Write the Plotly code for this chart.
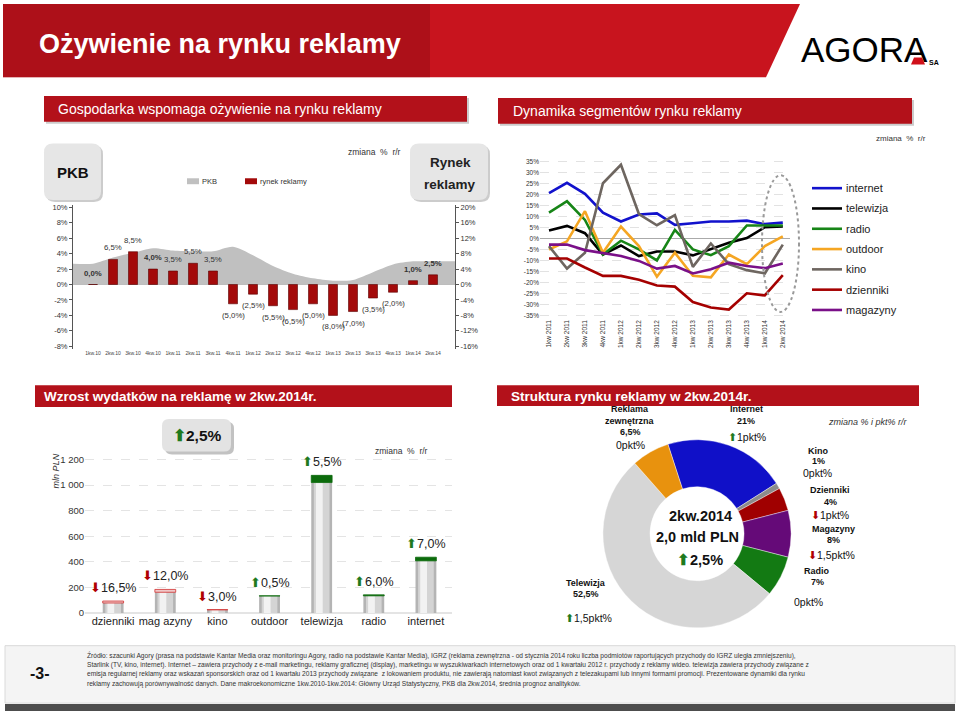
import plotly.graph_objects as go

W, H = 960, 718
def X(p): return p / W
def Y(p): return 1 - p / H

NARROW = "Liberation Sans, Arial, Helvetica, sans-serif"
ARIAL = "Liberation Sans, Arial, Helvetica, sans-serif"

# ---------------- data ----------------
pkb_quarters = ["1kw.10", "2kw.10", "3kw.10", "4kw.10", "1kw.11", "2kw.11", "3kw.11", "4kw.11",
                "1kw.12", "2kw.12", "3kw.12", "4kw.12", "1kw.13", "2kw.13", "3kw.13", "4kw.13",
                "1kw.14", "2kw.14"]
pkb_growth = [2.7, 3.5, 4.1, 4.7, 4.4, 4.3, 4.3, 4.9, 3.8, 2.4, 1.4, 0.8, 0.5, 0.6, 1.6, 2.6, 3.0, 3.0]
ad_market_growth = [0.0, 6.5, 8.5, 4.0, 3.5, 5.5, 3.5, -5.0, -2.5, -5.5, -6.5, -5.0, -8.0, -7.0,
                    -3.5, -2.0, 1.0, 2.5]
bold_bar_labels = {0, 3, 16, 17}

seg_quarters = ["1kw 2011", "2kw 2011", "3kw 2011", "4kw 2011", "1kw 2012", "2kw 2012", "3kw 2012",
                "4kw 2012", "1kw 2013", "2kw 2013", "3kw 2013", "4kw 2013", "1kw 2014", "2kw 2014"]
seg_internet = [20.7, 25.4, 20.4, 11.8, 7.8, 11.0, 11.5, 6.3, 7.0, 7.8, 7.8, 8.2, 6.6, 7.3]
seg_telewizja = [3.7, 5.8, 2.5, -7.2, -3.1, -7.9, -5.8, -5.8, -7.6, -4.9, -1.9, 0.3, 5.2, 5.5]
seg_radio = [11.8, 17.0, 8.5, -7.2, -0.9, -4.9, -9.9, 4.0, -4.9, -7.5, -3.4, 6.0, 6.0, 6.0]
seg_outdoor = [-4.9, -1.2, 12.5, -6.4, 5.5, -3.4, -17.3, -6.4, -16.9, -17.6, -7.2, -11.6, -3.4, 1.0]
seg_kino = [-3.4, -13.6, -6.4, 25.2, 33.6, 11.2, 6.1, 10.7, -12.8, -2.2, -11.6, -14.3, -15.8, -2.7]
seg_dzienniki = [-9.0, -9.0, -13.1, -16.9, -16.9, -18.7, -21.3, -21.8, -28.8, -31.3, -32.2, -24.8, -25.8, -16.6]
seg_magazyny = [-2.7, -2.7, -5.2, -6.7, -7.9, -10.1, -13.6, -12.4, -15.8, -13.9, -10.9, -12.4, -13.4, -11.3]
seg_names = ["internet", "telewizja", "radio", "outdoor", "kino", "dzienniki", "magazyny"]
seg_colors = ["#1212CC", "#000000", "#178517", "#F5A623", "#6E6660", "#A50000", "#7A1088"]

spend_names = ["dzienniki", "mag azyny", "kino", "outdoor", "telewizja", "radio", "internet"]
spend_2q14 = [78, 162, 25, 134, 1076, 142, 436]          # mln PLN
spend_change = [-16.5, -12.0, -3.0, 0.5, 5.5, 6.0, 7.0]  # % r/r

share_labels = ["Internet", "Kino", "Dzienniki", "Magazyny", "Radio", "Telewizja", "Reklama zewnętrzna"]
share_values = [21, 1, 4, 8, 7, 52.5, 6.5]
share_colors = ["#1010C8", "#8C8C8C", "#A00000", "#650A78", "#137A13", "#D6D6D6", "#E8920E"]

footer_lines = [
    "Źródło: szacunki Agory (prasa na podstawie Kantar Media oraz monitoringu Agory, radio na podstawie Kantar Media), IGRZ (reklama zewnętrzna - od stycznia 2014 roku liczba podmiotów raportujących przychody do IGRZ uległa zmniejszeniu),",
    "Starlink (TV, kino, internet). Internet – zawiera przychody z e-mail marketingu, reklamy graficznej (display), marketingu w wyszukiwarkach internetowych oraz od 1 kwartału 2012 r. przychody z reklamy wideo. telewizja zawiera przychody związane z",
    "emisja regularnej reklamy oraz wskazań sponsorskich oraz od 1 kwartału 2013 przychody związane  z lokowaniem produktu, nie zawierają natomiast kwot związanych z telezakupami lub innymi formami promocji. Prezentowane dynamiki dla rynku",
    "reklamy zachowują porównywalność danych. Dane makroekonomiczne 1kw.2010-1kw.2014: Główny Urząd Statystyczny, PKB dla 2kw.2014, średnia prognoz analityków.",
]

UP = '<span style="color:#1E7A1E">⬆</span>'
DOWN = '<span style="color:#B00000">⬇</span>'

def pl(v, d=1):
    return f"{abs(v):.{d}f}".replace(".", ",")

fig = go.Figure()
shapes = []
anns = []

def ann(text, x, y, size=10, color="#111", family=ARIAL, xanchor="center", yanchor="middle", **kw):
    anns.append(dict(text=text, x=X(x), y=Y(y), xref="paper", yref="paper", showarrow=False,
                     font=dict(size=size, color=color, family=family), xanchor=xanchor,
                     yanchor=yanchor, **kw))

def rect(x0, y0, x1, y1, fill, line=None, lw=0, layer="below", opacity=1):
    shapes.append(dict(type="rect", xref="paper", yref="paper", x0=X(x0), x1=X(x1), y0=Y(y1), y1=Y(y0),
                       fillcolor=fill, line=dict(color=line or fill, width=lw), layer=layer, opacity=opacity))

def rrect(x0, y0, x1, y1, r, fill, line="rgba(0,0,0,0)", lw=0, layer="below", opacity=1):
    rx, ry = r / W, r / H
    a0, a1, b0, b1 = X(x0), X(x1), Y(y0), Y(y1)
    p = (f"M {a0+rx},{b0} L {a1-rx},{b0} Q {a1},{b0} {a1},{b0-ry} L {a1},{b1+ry} Q {a1},{b1} {a1-rx},{b1} "
         f"L {a0+rx},{b1} Q {a0},{b1} {a0},{b1+ry} L {a0},{b0-ry} Q {a0},{b0} {a0+rx},{b0} Z")
    shapes.append(dict(type="path", xref="paper", yref="paper", path=p, fillcolor=fill,
                       line=dict(color=line, width=lw), layer=layer, opacity=opacity))

# ---------------- header ----------------
shapes.append(dict(type="path", xref="paper", yref="paper",
                   path=f"M {X(3)},{Y(2)} L {X(800)},{Y(2)} L {X(766)},{Y(76)} L {X(3)},{Y(76)} Z",
                   fillcolor="#C8141E", line=dict(width=0), layer="below"))
shapes.append(dict(type="path", xref="paper", yref="paper",
                   path=f"M {X(3)},{Y(2)} L {X(430)},{Y(2)} L {X(430)},{Y(76)} L {X(3)},{Y(76)} Z",
                   fillcolor="#7A0A10", opacity=0.35, line=dict(width=0), layer="below"))
ann("<b>Ożywienie na rynku reklamy</b>", 37, 42, size=27, color="white", xanchor="left")
ann("AGORA", 864, 48, size=35, color="#000")
shapes.append(dict(type="path", xref="paper", yref="paper",
                   path=f"M {X(914)},{Y(56)} L {X(922)},{Y(56)} L {X(925)},{Y(63)} L {X(911)},{Y(63)} Z",
                   fillcolor="#D0101A", line=dict(width=0), layer="above"))
ann("<b>SA</b>", 934, 61, size=7, color="#000")

# section headers (top)
rect(46, 97, 469, 123, "#999999", opacity=0.5)
rect(44, 95, 467, 121, "#B3111A")
ann("Gospodarka wspomaga ożywienie na rynku reklamy", 56, 108, size=14, color="white", xanchor="left")
rect(500, 99, 914, 125, "#999999", opacity=0.5)
rect(498, 97, 912, 123, "#B3111A")
ann("Dynamika segmentów rynku reklamy", 511, 110, size=14, color="white", xanchor="left")

# section headers (bottom)
rect(35, 387, 452, 409, "#B3111A")
ann("<b>Wzrost wydatków na reklamę w 2kw.2014r.</b>", 42, 398, size=13.5, color="white", xanchor="left")
rect(497, 387, 919, 408, "#B3111A")
ann("<b>Struktura rynku reklamy w 2kw.2014r.</b>", 509, 398, size=13.5, color="white", xanchor="left")

# ---------------- top-left: PKB vs rynek reklamy ----------------
idx = list(range(len(pkb_quarters)))
fig.add_trace(go.Scatter(x=[-1] + idx + [18.1], y=[pkb_growth[0]] + pkb_growth + [pkb_growth[-1]],
                         mode="lines", line=dict(width=0, shape="spline", smoothing=0.8), fill="tozeroy",
                         fillcolor="#C0C0C0", xaxis="x", yaxis="y", hoverinfo="skip"))
fig.add_trace(go.Bar(x=idx, y=ad_market_growth, width=0.45, marker=dict(color="#A30A0A",
                     line=dict(color="#5A0000", width=0.6)), xaxis="x", yaxis="y2"))
for i, v in enumerate(ad_market_growth):
    t = f"{pl(v)}%" if v >= 0 else f"({pl(v)}%)"
    if i in bold_bar_labels:
        t = f"<b>{t}</b>"
    anns.append(dict(text=t, x=i, y=v, xref="x", yref="y2", showarrow=False,
                     yanchor="bottom" if v >= 0 else "top", yshift=5 if v >= 0 else -5,
                     font=dict(size=7.8, family=NARROW, color="#333")))

rrect(46, 145, 103, 202, 9, "#AAAAAA", opacity=0.6)
rrect(44, 143, 101, 200, 9, "#E6E6E6")
ann("<b>PKB</b>", 73, 172, size=15, color="#111")
rrect(412, 145, 490, 202, 9, "#AAAAAA", opacity=0.6)
rrect(410, 143, 488, 200, 9, "#E6E6E6")
ann("<b>Rynek</b>", 450, 162, size=13.5, color="#222")
ann("<b>reklamy</b>", 450, 184, size=13.5, color="#222")
ann("zmiana  %  r/r", 374, 151, size=8.5, color="#333")
rect(187, 178, 199, 184, "#C0C0C0")
ann("PKB", 200, 181, size=7.5, color="#333", family=NARROW, xanchor="left")
rect(245, 178, 257, 184, "#A30A0A")
ann("rynek reklamy", 258, 181, size=7.5, color="#333", family=NARROW, xanchor="left")

# ---------------- top-right: segment dynamics ----------------
sidx = list(range(len(seg_quarters)))
for name, col, vals in zip(seg_names, seg_colors,
                           [seg_internet, seg_telewizja, seg_radio, seg_outdoor, seg_kino, seg_dzienniki, seg_magazyny]):
    fig.add_trace(go.Scatter(x=sidx, y=vals, mode="lines", name=name, line=dict(color=col, width=2.6),
                             xaxis="x2", yaxis="y3"))
shapes.append(dict(type="circle", xref="paper", yref="paper", x0=X(762), x1=X(799), y0=Y(313), y1=Y(175),
                   line=dict(color="#9A9A9A", width=2, dash="dot"), layer="above"))
for k, (name, col) in enumerate(zip(seg_names, seg_colors)):
    yy = 188 + k * 20.5
    shapes.append(dict(type="line", xref="paper", yref="paper", x0=X(812), x1=X(842), y0=Y(yy), y1=Y(yy),
                       line=dict(color=col, width=2.6)))
    ann(name, 844, yy, size=11, color="#222", xanchor="left")
ann("zmiana  %  r/r", 901, 138, size=8, color="#333")

# ---------------- bottom-left: spend bars ----------------
bidx = list(range(len(spend_names)))
base_vals, cap_vals, cap_cols, cap_lines, tops = [], [], [], [], []
for v, p in zip(spend_2q14, spend_change):
    if p >= 0:
        b = v / (1 + p / 100)
        base_vals.append(b); cap_vals.append(v - b); cap_cols.append("#0C6B0C"); cap_lines.append("#0C6B0C")
        tops.append(v)
    else:
        c = v * (-p / 100) / (1 + p / 100)
        base_vals.append(v); cap_vals.append(c); cap_cols.append("#F0C8C8"); cap_lines.append("#D03030")
        tops.append(v + c)
fig.add_trace(go.Bar(x=bidx, y=base_vals, width=0.4, marker=dict(color="#B4B4B4", line=dict(width=0)),
                     xaxis="x3", yaxis="y4"))
fig.add_trace(go.Bar(x=bidx, y=base_vals, width=0.3, marker=dict(color="#D4D4D4", line=dict(width=0)),
                     xaxis="x3", yaxis="y4"))
fig.add_trace(go.Bar(x=bidx, y=base_vals, width=0.13, offset=-0.11, marker=dict(color="#F2F2F2", line=dict(width=0)),
                     xaxis="x3", yaxis="y4"))
fig.add_trace(go.Bar(x=bidx, y=cap_vals, base=base_vals, width=0.4,
                     marker=dict(color=cap_cols, line=dict(color=cap_lines, width=0.8)), xaxis="x3", yaxis="y4"))
for i, (t, p) in enumerate(zip(tops, spend_change)):
    arrow = UP if p >= 0 else DOWN
    anns.append(dict(text=f"{arrow}{pl(p)}%", x=i, y=t, xref="x3", yref="y4", showarrow=False,
                     yanchor="bottom", yshift=4, font=dict(size=12.5, family=ARIAL, color="#222")))
rrect(165, 424, 234, 457, 7, "#999999", opacity=0.6)
rrect(162, 421, 231, 454, 7, "#E3E3E3")
ann(f"<b>{UP}2,5%</b>", 197, 438, size=15.5, color="#111")
ann("zmiana  %  r/r", 401, 453, size=8.5, color="#333")
ann("<i>mln PLN</i>", 56, 474, size=9, color="#333", textangle=-90)

# ---------------- bottom-right: donut ----------------
fig.add_trace(go.Pie(labels=share_labels, values=share_values, hole=0.5, sort=False, direction="clockwise",
                     rotation=-18, textinfo="none", hoverinfo="label+percent",
                     marker=dict(colors=share_colors, line=dict(color="#FFFFFF", width=0.4)),
                     domain=dict(x=[X(602), X(792)], y=[Y(632), Y(442)]), showlegend=False))
B = 9
ann("<b>Reklama</b>", 630, 411, size=B); ann("<b>zewnętrzna</b>", 630, 423, size=B)
ann("<b>6,5%</b>", 630, 434, size=B); ann("0pkt%", 630, 447, size=10.5)
ann("<b>Internet</b>", 746, 411, size=B); ann("<b>21%</b>", 746, 423, size=B)
ann(f"{UP}1pkt%", 747, 439, size=10.5)
ann("<i>zmiana % i pkt% r/r</i>", 868, 424, size=9, color="#333")
ann("<b>Kino</b>", 818, 453, size=B); ann("<b>1%</b>", 818, 464, size=B); ann("0pkt%", 817, 476, size=10.5)
ann("<b>Dzienniki</b>", 830, 493, size=B); ann("<b>4%</b>", 830, 505, size=B); ann(f"{DOWN}1pkt%", 830, 518, size=10.5)
ann("<b>Magazyny</b>", 833, 532, size=B); ann("<b>8%</b>", 833, 543, size=B); ann(f"{DOWN}1,5pkt%", 831, 558, size=10.5)
ann("<b>Radio</b>", 817, 575, size=B); ann("<b>7%</b>", 817, 586, size=B); ann("0pkt%", 808, 606, size=10.5)
ann("<b>Telewizja</b>", 586, 587, size=B); ann("<b>52,5%</b>", 586, 598, size=B)
ann(f"{UP}1,5pkt%", 588, 622, size=10.5)
ann("<b>2kw.2014</b>", 700, 519, size=14.5, color="#111")
ann("<b>2,0 mld PLN</b>", 697, 540, size=14.5, color="#111")
ann(f"<b>{UP}2,5%</b>", 700, 563, size=14.5, color="#111")

# ---------------- footer ----------------
rect(5, 650, 955, 708, "#F4F4F4", line="#DADADA", lw=1)
rect(5, 709, 955, 716, "#4D4D4D")
ann("<b>-3-</b>", 40, 678, size=16, color="#111")
for k, line in enumerate(footer_lines):
    ann(line, 85, 660 + k * 9.5, size=6.6, color="#333", xanchor="left")

# ---------------- axes ----------------
axfont = dict(family=NARROW, size=7.5, color="#333")
fig.update_layout(
    width=W, height=H, margin=dict(l=0, r=0, t=0, b=0), autosize=False,
    paper_bgcolor="white", plot_bgcolor="rgba(0,0,0,0)", showlegend=False, barmode="overlay",
    shapes=shapes, annotations=anns,
    xaxis=dict(domain=[X(73), X(455)], anchor="y", range=[-1, 18.1], tickvals=idx, ticktext=pkb_quarters,
               tickfont=dict(family=NARROW, size=5, color="#444"), showgrid=False, zeroline=False,
               showline=False, ticks=""),
    yaxis=dict(domain=[Y(350), Y(205)], anchor="x", range=[-8.3, 10.3], tickvals=list(range(-8, 11, 2)),
               ticktext=[f"{v}%" for v in range(-8, 11, 2)], tickfont=axfont, showgrid=False,
               zeroline=True, zerolinecolor="#BBBBBB", zerolinewidth=1, showline=True, linecolor="#555",
               ticks="outside", ticklen=3, tickcolor="#555"),
    yaxis2=dict(overlaying="y", side="right", anchor="x", range=[-16.6, 20.6], tickvals=list(range(-16, 21, 4)),
                ticktext=[f"{v}%" for v in range(-16, 21, 4)], tickfont=axfont, showgrid=False,
                zeroline=False, showline=True, linecolor="#555", ticks="outside", ticklen=3, tickcolor="#555"),
    xaxis2=dict(domain=[X(540), X(790)], anchor="y3", range=[-0.5, 13.4], tickvals=sidx, ticktext=seg_quarters,
                tickangle=-90, tickfont=dict(family=ARIAL, size=6.5, color="#333"), showgrid=False,
                zeroline=False, showline=False, ticks=""),
    yaxis3=dict(domain=[Y(319), Y(159)], anchor="x2", range=[-36, 36], tickvals=list(range(-35, 36, 5)),
                ticktext=[f"{v}%" for v in range(-35, 36, 5)], tickfont=dict(family=ARIAL, size=6.5, color="#333"),
                showgrid=True, gridcolor="#E2E2E2", griddash="dash", zeroline=True, zerolinecolor="#AAAAAA",
                zerolinewidth=1, showline=False),
    xaxis3=dict(domain=[X(85), X(452)], anchor="y4", range=[-0.54, 6.5], tickvals=bidx, ticktext=spend_names,
                tickfont=dict(family=ARIAL, size=11, color="#222"), showgrid=False, zeroline=False,
                showline=False, ticks=""),
    yaxis4=dict(domain=[Y(617), Y(458)], anchor="x3", range=[0, 1231], tickvals=list(range(0, 1201, 200)),
                ticktext=["0", "200", "400", "600", "800", "1 000", "1 200"],
                tickfont=dict(family=ARIAL, size=9.5, color="#333"), showgrid=True, gridcolor="#E4E4E4",
                griddash="dash", zeroline=True, zerolinecolor="#E4E4E4", showline=False),
)

fig.write_html("out.html")
